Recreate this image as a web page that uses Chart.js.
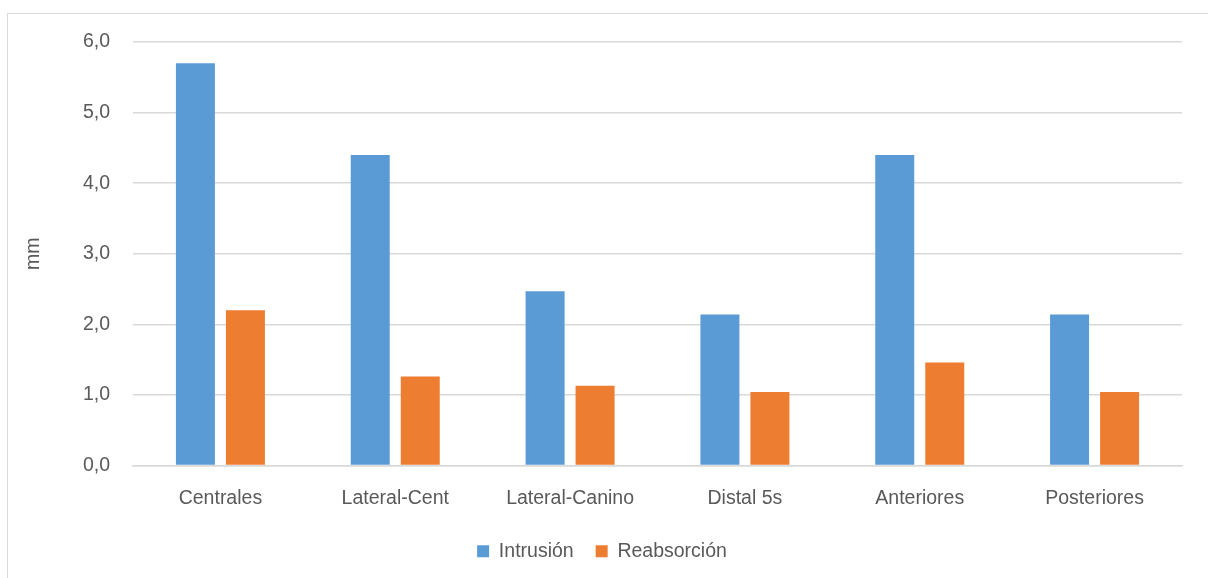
<!DOCTYPE html>
<html>
<head>
<meta charset="utf-8">
<script src="https://cdn.jsdelivr.net/npm/chart.js@4/dist/chart.umd.min.js"></script>
<style>
  html, body { margin: 0; padding: 0; background: #fff; overflow: hidden; }
  #frame { position: absolute; left: 7px; top: 13px; width: 1220px; height: 600px; border: 1px solid #d9d9d9; }
  #wrap { position: absolute; left: 0; top: 0; width: 1208px; height: 578px; }
</style>
</head>
<body>
<div id="frame"></div>
<div id="wrap"><canvas id="chart" width="1208" height="578"></canvas></div>
<script>
const categories = ['Centrales', 'Lateral-Cent', 'Lateral-Canino', 'Distal 5s', 'Anteriores', 'Posteriores'];
const intrusion = [5.7, 4.4, 2.47, 2.14, 4.4, 2.14];
const reabsorcion = [2.2, 1.26, 1.13, 1.04, 1.46, 1.04];
const yTicks = [0, 1, 2, 3, 4, 5, 6];

const fontFam = "'Liberation Sans', 'DejaVu Sans', sans-serif";
const txt = '#595959';
const fs = 19.5;

const ctx = document.getElementById('chart').getContext('2d');
new Chart(ctx, {
    type: 'bar',
    data: {
        labels: categories,
        datasets: [{
            label: 'Intrusión',
            data: intrusion,
            backgroundColor: '#5b9bd5',
            categoryPercentage: 0.572,
            barPercentage: 0.78
        }, {
            label: 'Reabsorción',
            data: reabsorcion,
            backgroundColor: '#ed7d31',
            categoryPercentage: 0.572,
            barPercentage: 0.78
        }]
    },
    options: {
        responsive: false,
        animation: false,
        layout: { padding: { left: 22, right: 26, top: 42, bottom: 7 } },
        plugins: {
            tooltip: { enabled: false },
            legend: {
                position: 'bottom',
                labels: {
                    color: txt,
                    font: { family: fontFam, size: fs },
                    boxWidth: 12,
                    boxHeight: 12,
                    padding: 22
                }
            }
        },
        scales: {
            x: {
                grid: { display: false },
                border: { display: true, color: '#d9d9d9', width: 1.5 },
                ticks: { color: txt, font: { family: fontFam, size: fs }, padding: 13 },
                afterFit: s => { s.height = 54; }
            },
            y: {
                min: 0,
                max: 6,
                afterBuildTicks: s => { s.ticks = yTicks.map(v => ({ value: v })); },
                grid: { color: '#d9d9d9', lineWidth: 1.5, drawTicks: false },
                border: { display: false },
                ticks: {
                    color: txt,
                    font: { family: fontFam, size: fs },
                    padding: 23,
                    callback: v => v.toFixed(1).replace('.', ',')
                },
                title: { display: true, text: 'mm', color: txt, font: { family: fontFam, size: fs }, padding: 0 },
                afterFit: s => { s.width = 111; }
            }
        }
    }
});
</script>
</body>
</html>
